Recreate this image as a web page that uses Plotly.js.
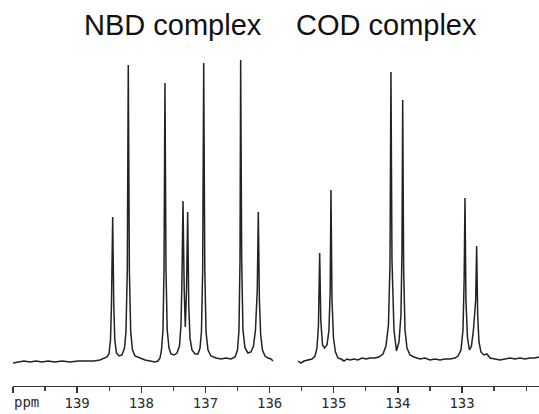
<!DOCTYPE html>
<html>
<head>
<meta charset="utf-8">
<script src="https://cdn.plot.ly/plotly-3.0.1.min.js"></script>
<style>html,body{margin:0;padding:0;background:#fff;}#chart{width:539px;height:414px;}</style>
</head>
<body>
<div id="chart"></div>
<script>
// NBD complex spectrum (ppm, intensity)
const nbdPpm = [140.000,139.922,139.829,139.735,139.641,139.548,139.454,139.345,139.236,139.111,138.987,138.862,138.737,138.644,138.581,138.535,
  138.504,138.480,138.465,138.446,138.429,138.413,138.387,138.348,138.301,138.262,138.239,138.218,138.203,138.186,138.165,138.137,138.098,
  138.020,137.942,137.864,137.786,137.740,137.708,137.685,137.662,137.646,137.631,137.615,137.596,137.568,137.537,137.490,137.444,137.405,
  137.381,137.366,137.350,137.331,137.314,137.295,137.277,137.260,137.241,137.210,137.163,137.116,137.085,137.062,137.043,137.027,137.010,
  136.991,136.960,136.913,136.836,136.758,136.680,136.602,136.539,136.500,136.477,136.461,136.451,136.435,136.415,136.383,136.337,136.290,
  136.251,136.220,136.192,136.176,136.159,136.139,136.111,136.072,136.025,135.978,135.947];
const nbdInt = [-3,-2,-1,-2,-1,-2,-1,-2,-1,-2,-1,-1,-1,0,2,3,
  6,20,55,143,55,20,7,4,5,12,28,90,295,90,28,10,4,
  2,0,-1,-2,-1,2,10,30,90,277,90,30,12,6,5,7,14,
  35,80,159,70,33,70,148,55,22,10,6,6,12,28,90,297,90,
  28,10,4,2,1,2,1,3,10,30,100,300,100,30,12,7,8,
  14,30,70,148,60,25,10,4,2,1,-1];

// COD complex spectrum (ppm, intensity)
const codPpm = [135.557,135.511,135.464,135.401,135.339,135.292,135.261,135.238,135.219,135.202,135.175,135.144,135.105,135.074,135.055,
  135.043,135.027,135.004,134.973,134.934,134.887,134.840,134.793,134.747,134.684,134.622,134.560,134.497,134.435,134.357,134.295,134.232,
  134.186,134.147,134.123,134.108,134.092,134.061,134.022,133.983,133.952,133.936,133.925,133.910,133.889,133.858,133.811,133.749,
  133.655,133.578,133.500,133.422,133.344,133.266,133.188,133.110,133.063,133.016,132.985,132.967,132.954,132.939,132.915,132.884,
  132.853,132.822,132.787,132.772,132.756,132.736,132.705,132.658,132.611,132.564,132.486,132.408,132.330,132.252,132.175,132.097,
  132.019,131.941,131.863,131.800];
const codInt = [-1,-3,-1,0,1,4,12,35,107,40,15,12,15,30,70,
  170,60,22,8,2,1,-1,1,0,1,0,2,1,2,2,3,6,
  14,35,95,288,100,30,9,18,45,110,260,90,30,12,5,3,
  1,2,0,1,0,1,1,2,4,10,30,80,162,60,22,10,
  14,30,60,114,45,18,8,5,6,2,1,0,1,2,1,2,
  1,2,2,3];

const tickVals = [140,139,138,137,136,135,134,133];
const tickText = ["","139","138","137","136","135","134","133"];
const titles = ["NBD complex","COD complex"];

const lineStyle = {color:'#222222', width:1.5, shape:'linear'};
const data = [
  {x:nbdPpm, y:nbdInt, type:'scatter', mode:'lines', line:lineStyle, hoverinfo:'skip', showlegend:false},
  {x:codPpm, y:codInt, type:'scatter', mode:'lines', line:lineStyle, hoverinfo:'skip', showlegend:false}
];

const tickFont = {family:'DejaVu Sans Mono, monospace', size:14, color:'#2a2a2a'};
const layout = {
  width:539, height:414,
  margin:{l:13, r:0, t:50, b:28, pad:0},
  paper_bgcolor:'#ffffff', plot_bgcolor:'#ffffff',
  showlegend:false,
  xaxis:{
    range:[140.0, 131.8], autorange:false,
    tickmode:'array', tickvals:tickVals, ticktext:tickText,
    ticks:'outside', ticklen:6, tickwidth:1.5, tickcolor:'#333',
    ticklabelstandoff:-2,
    minor:{tickmode:'linear', tick0:140, dtick:0.5, ticks:'outside', ticklen:4, tickwidth:1.3, tickcolor:'#444', showgrid:false},
    showline:true, linecolor:'#333', linewidth:1.4,
    showgrid:false, zeroline:false,
    tickfont:tickFont
  },
  yaxis:{range:[-26, 310], autorange:false, visible:false, showgrid:false, zeroline:false},
  annotations:[
    {text:titles[0], xref:'paper', yref:'paper', x:0.304, y:1.074, xanchor:'center', yanchor:'middle', showarrow:false,
     font:{family:'Liberation Sans, Arial, sans-serif', size:29, color:'#111'}},
    {text:titles[1], xref:'paper', yref:'paper', x:0.711, y:1.074, xanchor:'center', yanchor:'middle', showarrow:false,
     font:{family:'Liberation Sans, Arial, sans-serif', size:29, color:'#111'}},
    {text:'ppm', xref:'paper', yref:'paper', x:0.0266, y:-0.048, xanchor:'center', yanchor:'middle', showarrow:false,
     font:tickFont}
  ]
};
Plotly.newPlot('chart', data, layout, {staticPlot:true, displayModeBar:false});
</script>
</body>
</html>
